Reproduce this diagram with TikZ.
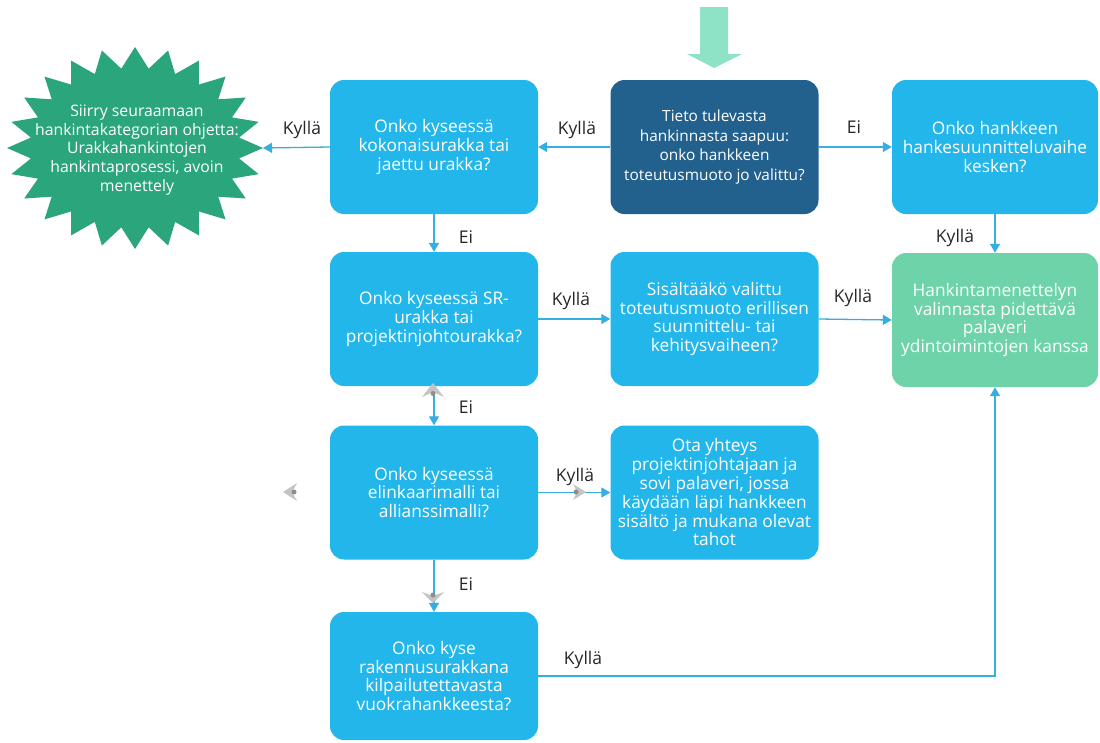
\documentclass[tikz,border=0pt]{standalone}
\usepackage{fontspec}
\setmainfont{Open Sans}
\usetikzlibrary{arrows.meta}
\definecolor{boxblue}{HTML}{22B6EA}
\definecolor{darkblue}{HTML}{22608E}
\definecolor{mintgreen}{HTML}{6ED3A9}
\definecolor{burstgreen}{HTML}{2BA57B}
\definecolor{linecol}{HTML}{35AEE0}
\definecolor{startarrow}{HTML}{8EE2C6}
\definecolor{markgray}{HTML}{C4C4C4}
\definecolor{markdot}{HTML}{8E8E8E}
\begin{document}
\begin{tikzpicture}[x=1pt,y=-1pt,
  qbox/.style={rounded corners=14pt, fill=boxblue, text=white, minimum width=208pt,
    minimum height=134pt, align=center, inner sep=2pt,
    font=\fontsize{17.3}{18.8}\selectfont},
  darkbox/.style={qbox, fill=darkblue, font=\fontsize{15.4}{19.5}\selectfont},
  flow/.style={draw=linecol, line width=1.3pt, -{Triangle[length=9pt,width=10pt]}},
  lbl/.style={font=\fontsize{17.5}{19}\selectfont, text=black!85, inner sep=0pt},
  marker/.style={fill=markgray}
]
\useasboundingbox (0,0) rectangle (1100,742);

% entry arrow
\fill[startarrow] (700,7) -- (728,7) -- (728,54) -- (742,54) -- (714,68)
  -- (687,54) -- (700,54) -- cycle;

% start node
\node[darkbox] (T) at (714.5,147)
  {Tieto tulevasta\\hankinnasta saapuu:\\onko hankkeen\\toteutusmuoto jo valittu?};

% left column
\node[qbox] (L1) at (434,147) {Onko kyseessä\\kokonaisurakka tai\\jaettu urakka?};
\node[qbox] (L2) at (434,319) {Onko kyseessä SR-\\urakka tai\\projektinjohtourakka?};
\node[qbox] (L3) at (434,492.5) {Onko kyseessä\\elinkaarimalli tai\\allianssimalli?};
\node[qbox, minimum height=128pt] (L4) at (434,676) {Onko kyse\\rakennusurakkana\\kilpailutettavasta\\vuokrahankkeesta?};

% middle column
\node[qbox] (M2) at (714.5,319) {Sisältääkö valittu\\toteutusmuoto erillisen\\suunnittelu- tai\\kehitysvaiheen?};
\node[qbox] (M3) at (714.5,492.5) {Ota yhteys\\projektinjohtajaan ja\\sovi palaveri, jossa\\käydään läpi hankkeen\\sisältö ja mukana olevat\\tahot};

% right column
\node[qbox, minimum width=206pt] (R1) at (995,147) {Onko hankkeen\\hankesuunnitteluvaihe\\kesken?};
\node[qbox, minimum width=206pt, fill=mintgreen] (G) at (995,320) {Hankintamenettelyn\\valinnasta pidettävä\\palaveri\\ydintoimintojen kanssa};

% starburst exit
\fill[burstgreen] (263,148)
  \foreach \a in {15,30,...,360} {
    -- ({135+105*cos(\a-7.5)},{148+80*sin(\a-7.5)})
    -- ({135+128*cos(\a)},{148+101*sin(\a)})
  } -- cycle;
\coordinate (SB) at (263,148);
\node[text=white, align=center, font=\fontsize{15.8}{18.8}\selectfont] (SBtext) at (137,150)
  {Siirry seuraamaan\\hankintakategorian ohjetta:\\Urakkahankintojen\\hankintaprosessi, avoin\\menettely};

% connectors
\draw[flow] (T.west) -- (L1.east);
\draw[flow] (T.east) -- (R1.west);
\draw[flow] (L1.west) -- (SB);
\draw[flow] (L1.south) -- (L2.north);
\draw[flow] (L2.east) -- (M2.west);
\draw[flow] (M2.east) -- (G.west);
\draw[flow] (R1.south) -- (G.north);
\draw[flow] (L2.south) -- (L3.north);
\draw[flow] (L3.east) -- (M3.west);
\draw[flow] (L3.south) -- (L4.north);
\draw[flow] (L4.east) -| (G.south);

% connector labels
\node[lbl] (k1) at (302,130) {Kyllä};
\node[lbl] (k2) at (577,130) {Kyllä};
\node[lbl] (e1) at (854,127) {Ei};
\node[lbl] (e2) at (466,237) {Ei};
\node[lbl] (k3) at (955,238) {Kyllä};
\node[lbl] (k4) at (571,301) {Kyllä};
\node[lbl] (k5) at (853,298) {Kyllä};
\node[lbl] (e3) at (466,407) {Ei};
\node[lbl] (k6) at (575,477) {Kyllä};
\node[lbl] (e4) at (466,584) {Ei};
\node[lbl] (k7) at (583,660) {Kyllä};

% small gray handle glyphs
\fill[marker] (433,383) -- (444,397) -- (433,392) -- (422,397) -- cycle;
\fill[markdot] (433,393.5) circle (2.5);
\fill[marker] (283,492) -- (297,483) -- (292,492) -- (297,501) -- cycle;
\fill[markdot] (294,492) circle (2.5);
\fill[marker] (586,492) -- (573,484) -- (577,492) -- (573,500) -- cycle;
\fill[markdot] (576,492) circle (2.5);
\fill[marker] (433,603) -- (422,592) -- (433,596) -- (444,592) -- cycle;
\fill[markdot] (433,595) circle (2.5);
\end{tikzpicture}
\end{document}
